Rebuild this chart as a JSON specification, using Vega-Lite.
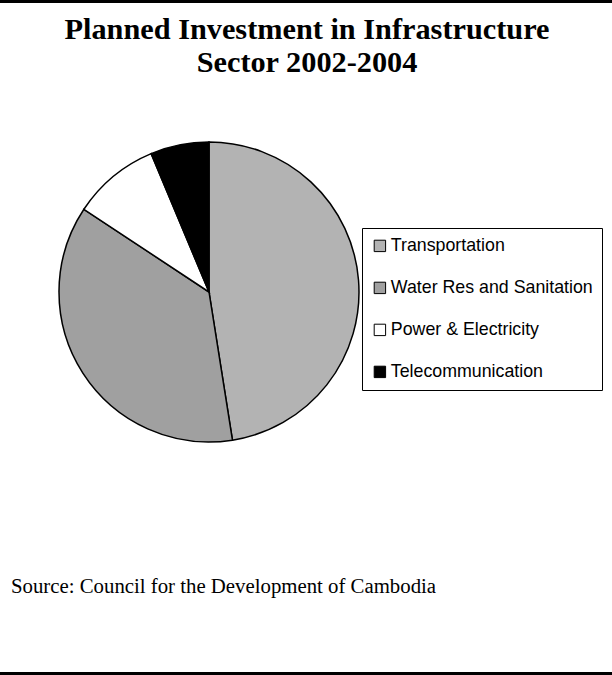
{
  "$schema": "https://vega.github.io/schema/vega-lite/v6.json",
  "padding": 0,
  "background": "white",
  "spacing": 0,
  "bounds": "flush",
  "config": {"view": {"stroke": null}, "font": "Liberation Serif"},
  "vconcat": [
    {
      "width": 612,
      "height": 1,
      "view": {"stroke": "black", "strokeWidth": 2},
      "data": {"values": [{}]},
      "mark": {"type": "point", "size": 1, "opacity": 0},
      "encoding": {},
      "title": {
        "text": ["Planned Investment in Infrastructure", "Sector 2002-2004"],
        "orient": "bottom",
        "anchor": "middle",
        "baseline": "alphabetic",
        "offset": 37,
        "font": "Liberation Serif",
        "fontSize": 30.3,
        "fontWeight": "bold",
        "lineHeight": 33,
        "color": "black"
      }
    },
    {
      "width": 416,
      "height": 580,
      "data": {
        "values": [
          {"sector": "Transportation", "share": 47.5, "rank": 1},
          {"sector": "Water Res and Sanitation", "share": 36.8, "rank": 2},
          {"sector": "Power & Electricity", "share": 9.4, "rank": 3},
          {"sector": "Telecommunication", "share": 6.3, "rank": 4}
        ]
      },
      "mark": {"type": "arc", "radius": 150, "stroke": "black", "strokeWidth": 1.5},
      "encoding": {
        "theta": {"field": "share", "type": "quantitative", "stack": true},
        "order": {"field": "rank", "type": "quantitative"},
        "color": {
          "field": "sector",
          "type": "nominal",
          "sort": null,
          "scale": {
            "domain": ["Transportation", "Water Res and Sanitation", "Power & Electricity", "Telecommunication"],
            "range": ["#b3b3b3", "#a0a0a0", "#ffffff", "#000000"]
          },
          "legend": {
            "title": null,
            "orient": "none",
            "legendX": 361,
            "legendY": 227,
            "padding": 9,
            "strokeColor": "black",
            "fillColor": "white",
            "symbolType": "square",
            "symbolSize": 130,
            "symbolStrokeColor": "black",
            "symbolStrokeWidth": 1,
            "symbolOpacity": 1,
            "labelFont": "Liberation Sans",
            "labelFontSize": 17.8,
            "labelColor": "black",
            "labelOffset": 2,
            "rowPadding": 23,
            "labelLimit": 400
          }
        }
      },
      "title": {
        "text": "Source: Council for the Development of Cambodia",
        "orient": "bottom",
        "anchor": "start",
        "baseline": "alphabetic",
        "dx": 10,
        "offset": 11,
        "font": "Liberation Serif",
        "fontSize": 20.8,
        "fontWeight": "normal",
        "color": "black"
      }
    },
    {
      "width": 612,
      "height": 91,
      "data": {"values": [{}]},
      "mark": {"type": "point", "size": 1, "opacity": 0},
      "encoding": {}
    },
    {
      "width": 612,
      "height": 1,
      "view": {"stroke": "black", "strokeWidth": 2},
      "data": {"values": [{}]},
      "mark": {"type": "point", "size": 1, "opacity": 0},
      "encoding": {}
    }
  ]
}
